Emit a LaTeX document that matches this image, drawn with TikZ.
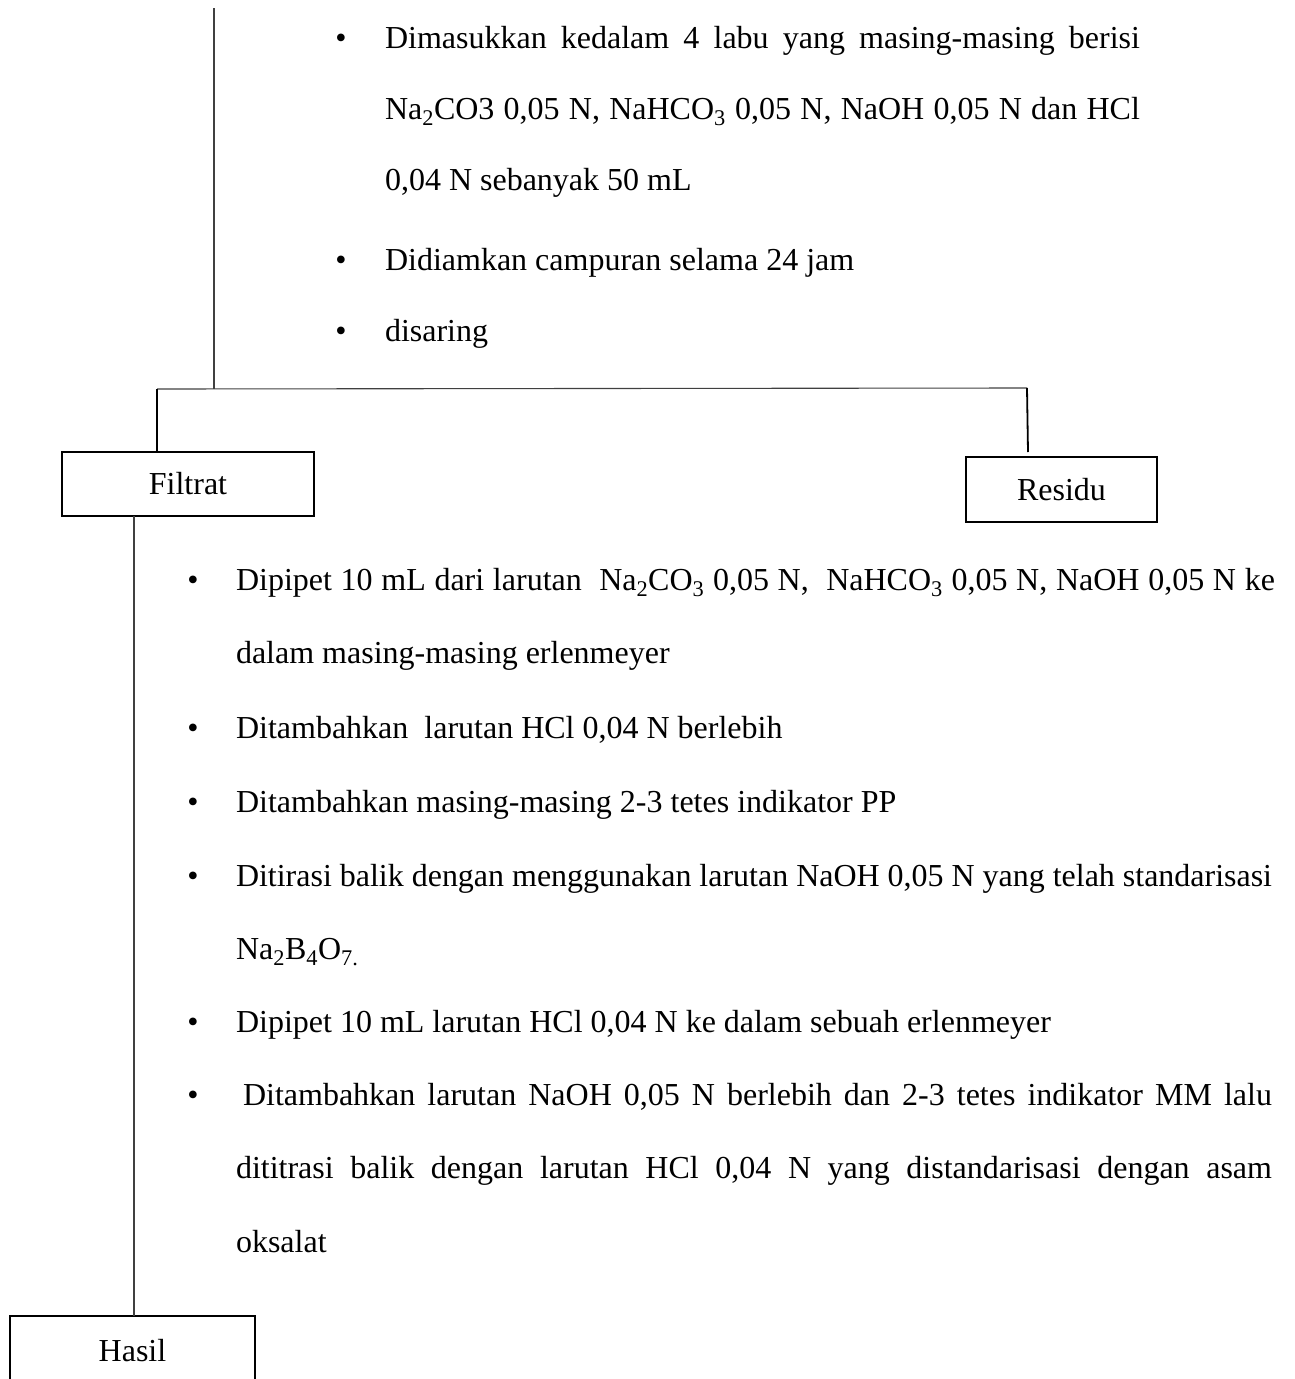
\documentclass[tikz,border=0pt]{standalone}
\usepackage{fontspec}
\setmainfont{Liberation Serif}
\usepackage{graphicx}
\newlength\fitw
\newcommand\fitto[2]{\settowidth\fitw{#2}\ifdim\fitw>#1\relax\resizebox{#1}{\height}{#2}\else\makebox[#1][s]{#2}\fi}
\begin{document}
\begin{tikzpicture}[x=1pt,y=-1pt, font=\fontsize{32}{38}\selectfont,
  txt/.style={anchor=base west, inner sep=0pt, outer sep=0pt},
  bul/.style={anchor=base, inner sep=0pt, outer sep=0pt},
  boxnode/.style={draw, line width=1.8pt, inner sep=0pt, outer sep=0pt},
  thinline/.style={line width=1.1pt, draw=black!75},
  thickline/.style={line width=1.8pt, draw=black}]
\useasboundingbox (0,0) rectangle (1295,1379);
\clip (0,0) rectangle (1295,1379);
% top block
\node[bul] (tb1) at (341,48) {•};
\node[txt] (t1) at (385,48) {\fitto{755pt}{Dimasukkan kedalam 4 labu yang masing-masing berisi}};
\node[txt] (t2) at (385,119) {\fitto{755pt}{Na\textsubscript{2}CO3 0,05 N, NaHCO\textsubscript{3} 0,05 N, NaOH 0,05 N dan HCl}};
\node[txt] (t3) at (385,190) {0,04 N sebanyak 50 mL};
\node[bul] (tb2) at (341,270) {•};
\node[txt] (t4) at (385,270) {Didiamkan campuran selama 24 jam};
\node[bul] (tb3) at (341,341) {•};
\node[txt] (t5) at (385,341) {disaring};
% boxes
\node[boxnode, minimum width=252pt, minimum height=64pt] (filtrat) at (188,484) {Filtrat};
\node[boxnode, minimum width=191pt, minimum height=65pt] (residu) at (1061.5,489.5) {Residu};
\node[boxnode, minimum width=245pt, minimum height=70pt, anchor=north] (hasil) at (132.5,1316) {Hasil};
% lower block
\node[bul] (lb1) at (193,590) {•};
\node[txt] (l1) at (236,590) {\fitto{1039pt}{Dipipet 10 mL dari larutan\ \ Na\textsubscript{2}CO\textsubscript{3} 0,05 N,\ \ NaHCO\textsubscript{3} 0,05 N, NaOH 0,05 N ke}};
\node[txt] (l2) at (236,663) {dalam masing-masing erlenmeyer};
\node[bul] (lb2) at (193,738) {•};
\node[txt] (l3) at (236,738) {Ditambahkan\ \ larutan HCl 0,04 N berlebih};
\node[bul] (lb3) at (193,812) {•};
\node[txt] (l4) at (236,812) {Ditambahkan masing-masing 2-3 tetes indikator PP};
\node[bul] (lb4) at (193,886) {•};
\node[txt] (l5) at (236,886) {\fitto{1036pt}{Ditirasi balik dengan menggunakan larutan NaOH 0,05 N yang telah standarisasi}};
\node[txt] (l6) at (236,959) {Na\textsubscript{2}B\textsubscript{4}O\textsubscript{7.}};
\node[bul] (lb5) at (193,1032) {•};
\node[txt] (l7) at (236,1032) {Dipipet 10 mL larutan HCl 0,04 N ke dalam sebuah erlenmeyer};
\node[bul] (lb6) at (193,1105) {•};
\node[txt] (l8) at (243,1105) {\fitto{1029pt}{Ditambahkan larutan NaOH 0,05 N berlebih dan 2-3 tetes indikator MM lalu}};
\node[txt] (l9) at (236,1178) {\fitto{1036pt}{dititrasi balik dengan larutan HCl 0,04 N yang distandarisasi dengan asam}};
\node[txt] (l10) at (236,1252) {oksalat};
% connectors
\coordinate (top) at (214,8);
\coordinate (split) at (214,389);
\coordinate (jl) at (157,389);
\coordinate (jr) at (1027,388);
\coordinate (rend) at (1028,452);
\coordinate (fv) at (134,0);
\draw[thinline] (top) -- (split);
\draw[thinline] (jl) -- (jr);
\draw[thickline] (jl) -- (jl |- filtrat.north);
\draw[thickline] (jr) -- (rend);
\draw[thinline] (fv |- filtrat.south) -- (fv |- hasil.north);
\end{tikzpicture}
\end{document}
